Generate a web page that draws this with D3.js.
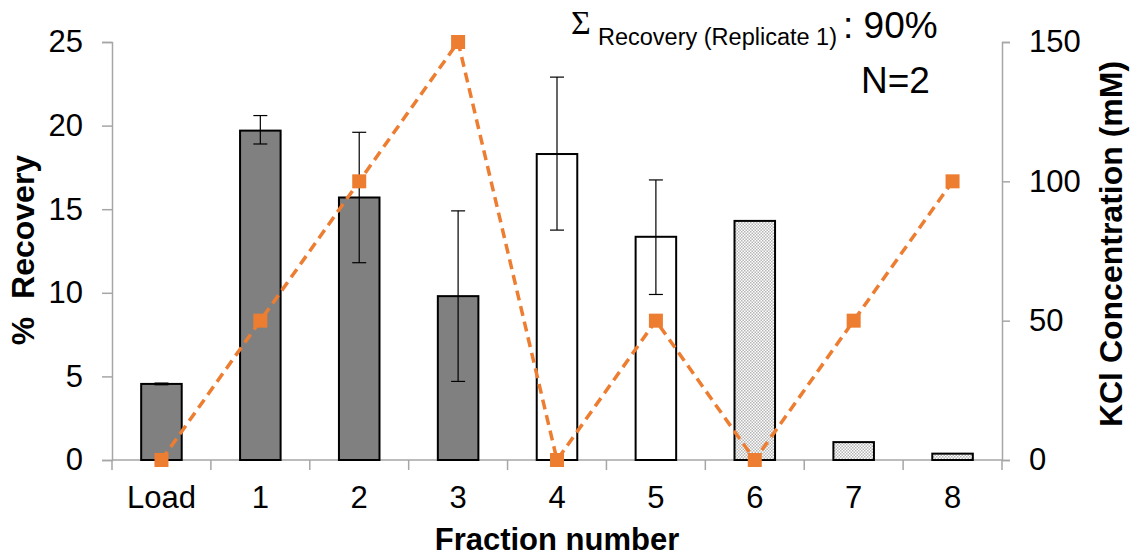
<!DOCTYPE html>
<html>
<head>
<meta charset="utf-8">
<script src="https://cdn.jsdelivr.net/npm/d3@7"></script>
<style>
  body { margin: 0; background: #fff; }
  text { font-family: "Liberation Sans", Arial, sans-serif; }
</style>
</head>
<body>
<div id="chart"></div>
<script>
// data
const fractions = ["Load", "1", "2", "3", "4", "5", "6", "7", "8"];
const recovery = [4.55, 19.7, 15.7, 9.8, 18.3, 13.35, 14.3, 1.07, 0.38];
const errLow = [4.5, 18.9, 11.8, 4.7, 13.75, 9.9, null, null, null];
const errHigh = [4.6, 20.6, 19.6, 14.9, 22.9, 16.75, null, null, null];
const barStyle = ["dark", "dark", "dark", "dark", "open", "open", "dots", "dots", "dots"];
const kcl = [0, 50, 100, 150, 0, 50, 0, 50, 100];
const leftTicks = [0, 5, 10, 15, 20, 25];
const rightTicks = [0, 50, 100, 150];

const width = 1135;
const height = 558;
const margin = {top: 42, right: 133, bottom: 98, left: 112};

const svg = d3.select("#chart").append("svg")
    .attr("width", width)
    .attr("height", height);

// dotted fill for fractions 6-8
const defs = svg.append("defs");
const pat = defs.append("pattern")
    .attr("id", "dots")
    .attr("width", 3).attr("height", 3)
    .attr("patternUnits", "userSpaceOnUse");
pat.append("rect").attr("width", 3).attr("height", 3).attr("fill", "#fff");
pat.append("rect").attr("width", 1.5).attr("height", 1.5).attr("fill", "#b5b5b5");
pat.append("rect").attr("x", 1.5).attr("y", 1.5).attr("width", 1.5).attr("height", 1.5).attr("fill", "#b5b5b5");

const x = d3.scaleBand()
    .domain(fractions)
    .range([margin.left, width - margin.right])
    .paddingInner(0.59)
    .paddingOuter(0.295);

const xTicks = d3.scaleBand()
    .domain(fractions)
    .range([margin.left, width - margin.right]);

const y = d3.scaleLinear().domain([0, 25]).range([height - margin.bottom, margin.top]);
const y2 = d3.scaleLinear().domain([0, 150]).range([height - margin.bottom, margin.top]);

const axisColor = "#a6a6a6";

// left axis
const gY = svg.append("g")
    .attr("transform", `translate(${margin.left},0)`)
    .call(d3.axisLeft(y).tickValues(leftTicks).tickSize(10).tickPadding(19));
// right axis
const gY2 = svg.append("g")
    .attr("transform", `translate(${width - margin.right},0)`)
    .call(d3.axisRight(y2).tickValues(rightTicks).tickSize(8).tickPadding(19));

[gY, gY2].forEach(g => {
  g.select(".domain").attr("stroke", axisColor).attr("stroke-width", 1.5);
  g.selectAll(".tick line").attr("stroke", axisColor).attr("stroke-width", 1.5);
  g.selectAll("text").style("font-size", "31px").attr("fill", "#000");
});

// x axis: baseline plus ticks between categories
const gX = svg.append("g")
    .attr("transform", `translate(0,${height - margin.bottom})`);
gX.append("line")
    .attr("x1", margin.left).attr("x2", width - margin.right)
    .attr("stroke", axisColor).attr("stroke-width", 1.5);
gX.selectAll(".sep")
    .data(fractions.concat(["end"]))
    .enter().append("line")
    .attr("class", "sep")
    .attr("x1", (d, i) => i < fractions.length ? xTicks(d) : xTicks.range()[1])
    .attr("x2", (d, i) => i < fractions.length ? xTicks(d) : xTicks.range()[1])
    .attr("y1", 0).attr("y2", 10)
    .attr("stroke", axisColor).attr("stroke-width", 1.5);
gX.selectAll(".lab")
    .data(fractions)
    .enter().append("text")
    .attr("class", "lab")
    .attr("x", d => x(d) + x.bandwidth() / 2)
    .attr("y", 48)
    .attr("text-anchor", "middle")
    .style("font-size", "31px")
    .text(d => d);

// bars
const fillFor = s => s === "dark" ? "#808080" : s === "open" ? "#fff" : "url(#dots)";
svg.append("g").selectAll("rect")
    .data(fractions)
    .enter().append("rect")
    .attr("x", d => x(d))
    .attr("y", (d, i) => y(recovery[i]))
    .attr("width", x.bandwidth())
    .attr("height", (d, i) => y(0) - y(recovery[i]))
    .attr("fill", (d, i) => fillFor(barStyle[i]))
    .attr("stroke", "#000")
    .attr("stroke-width", 2);

// error bars
const eb = svg.append("g").attr("stroke", "#000").attr("stroke-width", 1.2);
fractions.forEach((f, i) => {
  if (errLow[i] === null) return;
  const cx = x(f) + x.bandwidth() / 2;
  eb.append("line").attr("x1", cx).attr("x2", cx).attr("y1", y(errLow[i])).attr("y2", y(errHigh[i]));
  eb.append("line").attr("x1", cx - 7).attr("x2", cx + 7).attr("y1", y(errLow[i])).attr("y2", y(errLow[i]));
  eb.append("line").attr("x1", cx - 7).attr("x2", cx + 7).attr("y1", y(errHigh[i])).attr("y2", y(errHigh[i]));
});

// KCl line
const orange = "#ed7d31";
const line = d3.line()
    .x((d, i) => x(fractions[i]) + x.bandwidth() / 2)
    .y(d => y2(d));
svg.append("path")
    .datum(kcl)
    .attr("fill", "none")
    .attr("stroke", orange)
    .attr("stroke-width", 3.5)
    .attr("stroke-dasharray", "10,6")
    .attr("d", line);
svg.append("g").selectAll("rect")
    .data(kcl)
    .enter().append("rect")
    .attr("x", (d, i) => x(fractions[i]) + x.bandwidth() / 2 - 7)
    .attr("y", d => y2(d) - 7)
    .attr("width", 14).attr("height", 14)
    .attr("fill", orange);

// axis titles
svg.append("text")
    .attr("x", (margin.left + width - margin.right) / 2)
    .attr("y", 550)
    .attr("text-anchor", "middle")
    .style("font-size", "31px").style("font-weight", "bold")
    .text("Fraction number");
svg.append("text")
    .attr("transform", "translate(34,250) rotate(-90)")
    .attr("text-anchor", "middle")
    .style("font-size", "32px").style("font-weight", "bold")
    .style("white-space", "pre")
    .text("%  Recovery");
svg.append("text")
    .attr("transform", "translate(1122,244) rotate(-90)")
    .attr("text-anchor", "middle")
    .style("font-size", "32px").style("font-weight", "bold")
    .text("KCl Concentration (mM)");

// annotation
svg.append("text").attr("x", 571).attr("y", 34)
    .style("font-family", "'Liberation Serif', serif").style("font-size", "34px").text("Σ");
svg.append("text").attr("x", 598).attr("y", 45).style("font-size", "23.5px").text("Recovery (Replicate 1)");
svg.append("text").attr("x", 843).attr("y", 38).style("font-size", "37px").text(": 90%");
svg.append("text").attr("x", 861).attr("y", 93).style("font-size", "37px").text("N=2");
</script>
</body>
</html>
